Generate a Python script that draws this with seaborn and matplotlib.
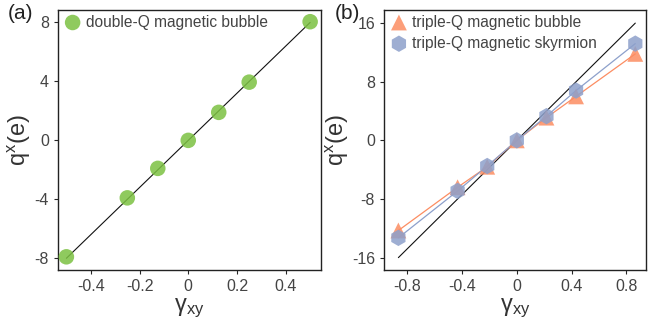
import matplotlib
matplotlib.use('Agg')
from matplotlib import pyplot as plt
import numpy as np
import pandas as pd
import seaborn as sns

# panel (a): double-Q magnetic bubble
gamma_a = [-0.5, -0.25, -0.125, 0.0, 0.125, 0.25, 0.5]
q_bubble2 = [-7.9, -3.9, -1.9, 0.0, 1.9, 3.95, 8.05]
ref_a_x = [-0.5, 0.5]
ref_a_y = [-8.0, 8.0]

# panel (b): triple-Q bubble and skyrmion
gamma_b = [-0.866, -0.433, -0.2165, 0.0, 0.2165, 0.433, 0.866]
q_bubble3 = [-12.3, -6.4, -3.6, 0.0, 3.1, 6.0, 11.8]
q_skyrm3 = [-13.3, -6.9, -3.5, 0.0, 3.3, 6.8, 13.2]
ref_b_x = [-0.866, 0.866]
ref_b_y = [-16.0, 16.0]

green = "#7cc142"
orange = "#fc8d62"
blue = "#8da0cb"

sns.set_style("ticks")
plt.rcParams['font.family'] = ['Liberation Sans', 'DejaVu Sans']
plt.rcParams['axes.linewidth'] = 1.0
plt.rcParams['axes.edgecolor'] = "#222222"

fig = plt.figure(figsize=(6.5, 3.2), dpi=100)
ax1 = fig.add_axes([0.089, 0.156, 0.405, 0.813])
ax2 = fig.add_axes([0.591, 0.156, 0.403, 0.813])

df_a = pd.DataFrame({"g": gamma_a, "q": q_bubble2})
sns.lineplot(x=ref_a_x, y=ref_a_y, color="#111111", linewidth=0.8, ax=ax1)
sns.scatterplot(data=df_a, x="g", y="q", color=green, s=125, alpha=0.85,
                edgecolor="none", ax=ax1, label="double-Q magnetic bubble", zorder=3)

df_b = pd.DataFrame({"g": gamma_b, "bub": q_bubble3, "sky": q_skyrm3})
sns.lineplot(x=ref_b_x, y=ref_b_y, color="#111111", linewidth=0.8, ax=ax2)
sns.lineplot(data=df_b, x="g", y="bub", color=orange, linewidth=0.9, ax=ax2)
sns.lineplot(data=df_b, x="g", y="sky", color=blue, linewidth=0.9, ax=ax2)
sns.scatterplot(data=df_b, x="g", y="bub", color=orange, marker="^", s=130, alpha=0.85,
                edgecolor="none", ax=ax2, label="triple-Q magnetic bubble", zorder=3)
sns.scatterplot(data=df_b, x="g", y="sky", color=blue, marker="h", s=140, alpha=0.85,
                edgecolor="none", ax=ax2, label="triple-Q magnetic skyrmion", zorder=4)

ax1.set_xlim(-0.535, 0.545)
ax1.set_ylim(-8.8, 8.85)
ax1.set_xticks([-0.4, -0.2, 0, 0.2, 0.4])
ax1.set_xticklabels(["-0.4", "-0.2", "0", "0.2", "0.4"])
ax1.set_yticks([-8, -4, 0, 4, 8])
ax1.set_yticklabels(["-8", "-4", "0", "4", "8"])

ax2.set_xlim(-0.97, 0.945)
ax2.set_ylim(-17.7, 17.8)
ax2.set_xticks([-0.8, -0.4, 0, 0.4, 0.8])
ax2.set_xticklabels(["-0.8", "-0.4", "0", "0.4", "0.8"])
ax2.set_yticks([-16, -8, 0, 8, 16])
ax2.set_yticklabels(["-16", "-8", "0", "8", "16"])

for ax, tag in [(ax1, "(a)"), (ax2, "(b)")]:
    ax.tick_params(axis="both", labelsize=11.5, labelcolor="#444444", length=3, width=0.8)
    ax.set_xlabel(r"$\mathregular{\gamma_{xy}}$", fontsize=17, color="#333333", labelpad=2)
    ax.set_ylabel(r"q$\mathregular{^x}$(e)", fontsize=17, color="#333333", labelpad=1)
    for sp in ax.spines.values():
        sp.set_visible(True)
    leg = ax.legend(loc="upper left", frameon=False, fontsize=11.2, handletextpad=0.2,
                    handlelength=1.3, borderaxespad=0.1, labelspacing=0.4, borderpad=0.2)
    for t in leg.get_texts():
        t.set_color("#444444")
    ax.text(-0.19, 0.985, tag, transform=ax.transAxes, fontsize=15, color="#222222",
            ha="left", va="center")

fig.savefig("out.png", dpi=100)
